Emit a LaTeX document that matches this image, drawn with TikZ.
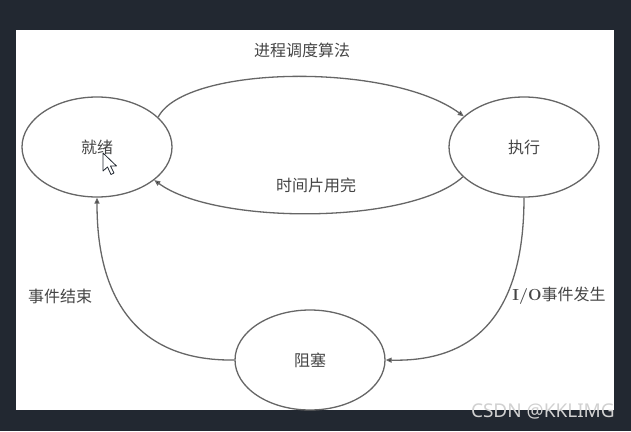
\documentclass[tikz,border=0pt]{standalone}
\usepackage{fontspec}
\newfontfamily\cjk{Noto Sans CJK SC}
\newfontfamily\wmfont{Noto Sans}
\usetikzlibrary{shapes.geometric,arrows.meta}
\definecolor{darkbg}{HTML}{222831}
\definecolor{linegray}{HTML}{666666}
\definecolor{textgray}{HTML}{454545}
\tikzset{
  proc/.style={draw=linegray,line width=1.3pt,ellipse,minimum width=150pt,minimum height=100pt,
    inner sep=0pt,font=\cjk\fontsize{16}{16}\selectfont,text=textgray},
  trans/.style={draw=linegray,line width=1.3pt,-{Triangle[length=6pt,width=5pt,fill=black]}},
  lbl/.style={font=\cjk\fontsize{16}{16}\selectfont,text=textgray,inner sep=0pt}
}
\begin{document}
\begin{tikzpicture}[x=1pt,y=-1pt]
% screen and page
\fill[darkbg] (0,0) rectangle (631,431);
\fill[white] (16,30) rectangle (614,410);
% states
\node[proc] (ready) at (97,147) {就绪};
\node[proc] (run) at (524,147) {执行};
\node[proc] (block) at (310,360) {阻塞};
% transitions
\draw[trans] (ready.26) .. controls (185,65) and (390,62) .. (run.153);
\draw[trans] (run.206) .. controls (410,225) and (215,225) .. (ready.330);
\draw[trans] (run.south) .. controls (524,320) and (470,362) .. (block.east);
\draw[trans] (block.west) .. controls (105,362) and (97,250) .. (ready.south);
% labels
\node[lbl] (dispatch) at (302,50) {进程调度算法};
\node[lbl] (timeout) at (316,185) {时间片用完};
\node[lbl] (evdone) at (60,296) {事件结束};
\node[lbl] (evwait) at (559,296) {{\rmfamily\bfseries I/O}事件发生};
% mouse pointer
\draw[darkbg,fill=white,line width=0.8pt,line join=round]
  (103,153) -- (103,171) -- (107.5,167) -- (111,174.5) -- (114,173) -- (110.5,166) -- (116.5,166) -- cycle;
% watermark
\node[anchor=east,inner sep=0pt,text=black!18,font=\wmfont\fontsize{19}{19}\selectfont] (mark) at (615,411) {CSDN @KKLIMG};
\end{tikzpicture}
\end{document}
